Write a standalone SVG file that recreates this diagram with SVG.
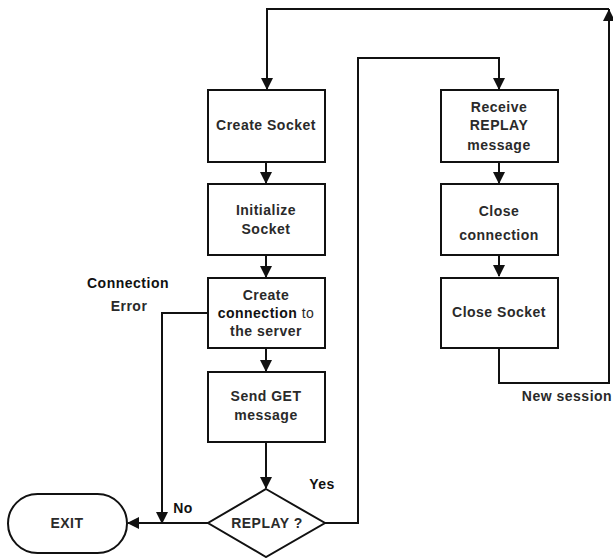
<svg xmlns="http://www.w3.org/2000/svg" width="613" height="558" viewBox="0 0 613 558">
<style>
.box{fill:#fff;stroke:#111;stroke-width:2}
.ln{fill:none;stroke:#111;stroke-width:2}
text{font-family:"Liberation Sans",Arial,sans-serif;font-weight:bold;font-size:14px;fill:#2a2a2a;text-anchor:middle;letter-spacing:0.5px}
.lab{fill:#111}
.thin{font-weight:normal}
</style>
<defs>
<marker id="ah" viewBox="0 0 12 12" refX="11" refY="6" markerWidth="12" markerHeight="12" markerUnits="userSpaceOnUse" orient="auto">
<path d="M0,0 L12,6 L0,12 Z" fill="#111"/>
</marker>
</defs>
<rect width="613" height="558" fill="#fff"/>
<g id="connectors">
<path class="ln" d="M266,162 V183" marker-end="url(#ah)"/>
<path class="ln" d="M266,255 V277" marker-end="url(#ah)"/>
<path class="ln" d="M266,348 V371" marker-end="url(#ah)"/>
<path class="ln" d="M266,442 V488" marker-end="url(#ah)"/>
<path class="ln" d="M207,313 H162 V523" marker-end="url(#ah)"/>
<path class="ln" d="M208,523 H128" marker-end="url(#ah)"/>
<path class="ln" d="M325,523 H358 V58 H499 V89" marker-end="url(#ah)"/>
<path class="ln" d="M499,162 V183" marker-end="url(#ah)"/>
<path class="ln" d="M499,255 V276" marker-end="url(#ah)"/>
<path class="ln" d="M499,348 V383 H609 V9"/>
<path class="ln" d="M609,30 V10" marker-end="url(#ah)"/>
<path class="ln" d="M609,9 H267 V89" marker-end="url(#ah)"/>
</g>
<g id="create-socket">
<rect class="box" x="208" y="90" width="117" height="72"/>
<text x="266" y="130">Create  Socket</text>
</g>
<g id="initialize-socket">
<rect class="box" x="208" y="184" width="117" height="71"/>
<text x="266" y="215">Initialize</text>
<text x="266" y="234">Socket</text>
</g>
<g id="create-connection">
<rect class="box" x="208" y="278" width="117" height="70"/>
<text x="266" y="300">Create</text>
<text x="266" y="318"><tspan fill="#111">connection</tspan><tspan class="thin"> to</tspan></text>
<text x="266" y="336">the server</text>
</g>
<g id="send-get">
<rect class="box" x="208" y="372" width="117" height="70"/>
<text x="266" y="401">Send GET</text>
<text x="266" y="420">message</text>
</g>
<g id="replay-decision">
<polygon class="box" points="266,489 325,523 266,557 208,523"/>
<text x="267" y="528">REPLAY ?</text>
</g>
<g id="exit">
<rect class="box" x="8" y="494" width="119" height="59" rx="29.5" ry="29.5"/>
<text x="67" y="528">EXIT</text>
</g>
<g id="receive-replay">
<rect class="box" x="441" y="90" width="117" height="72"/>
<text x="499" y="112">Receive</text>
<text x="499" y="130">REPLAY</text>
<text x="499" y="150">message</text>
</g>
<g id="close-connection">
<rect class="box" x="441" y="184" width="117" height="71"/>
<text x="499" y="216">Close</text>
<text x="499" y="240" fill="#111">connection</text>
</g>
<g id="close-socket">
<rect class="box" x="441" y="278" width="117" height="70"/>
<text x="499" y="317">Close  Socket</text>
</g>
<g id="labels">
<text class="lab" x="128" y="288">Connection</text>
<text x="129" y="311">Error</text>
<text class="lab" x="322" y="489">Yes</text>
<text class="lab" x="183" y="513">No</text>
<text x="567" y="401">New session</text>
</g>
</svg>
